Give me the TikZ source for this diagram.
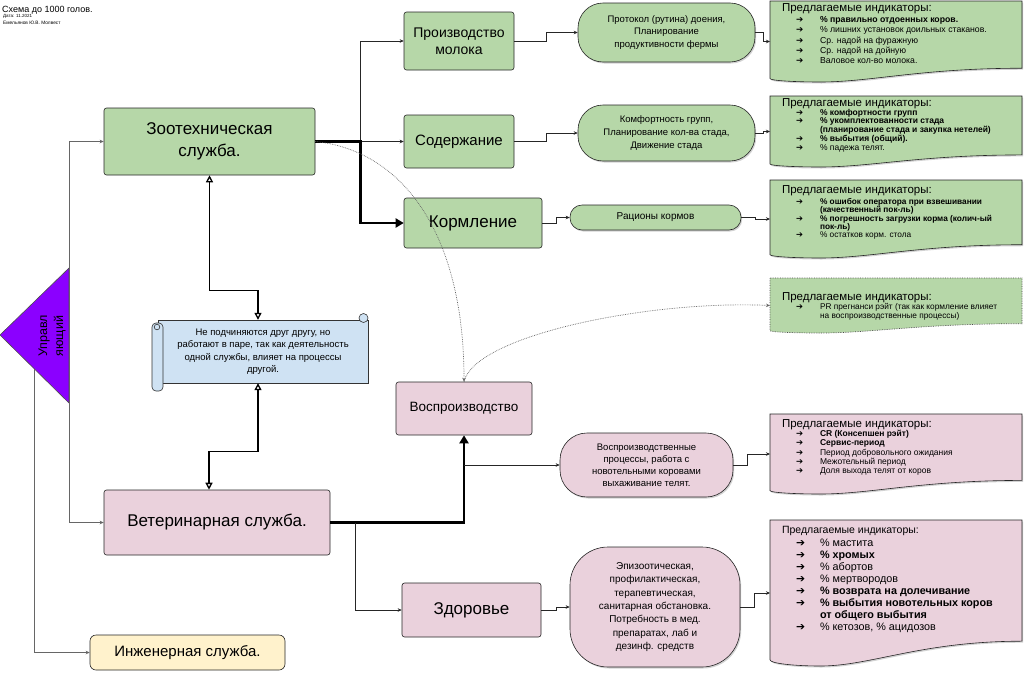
\documentclass[tikz,border=0pt]{standalone}
\usepackage{fontspec}
\setmainfont{Liberation Sans}
\newfontfamily\dejavu{DejaVu Sans}
\usetikzlibrary{arrows.meta,calc,shadows}
\definecolor{gr}{HTML}{B6D7A8}
\definecolor{pk}{HTML}{EAD1DC}
\definecolor{bl}{HTML}{CFE2F3}
\definecolor{yl}{HTML}{FFF2CC}
\definecolor{pu}{HTML}{8B00FF}
\newcommand\arw{{\dejavu ➔}}
\newcommand\ind[1]{\par\hangindent=38pt\hangafter=1\noindent\hspace*{14pt}\makebox[24pt][l]{\arw}#1}
\newcommand\hd[2]{\raggedright\leftskip=12pt\relax\vspace*{#1}{\fontsize{#2}{#2}\selectfont Предлагаемые индикаторы:\par}}
\newcommand\indbox[7]{%
 \pgfmathsetmacro\dw{#4-#2}\pgfmathsetmacro\dh{#5-#3}\pgfmathsetmacro\dd{0.17*\dh}%
 \path[#6] (#2,#3) -- (#4,#3) -- (#4,#5-\dd) .. controls (#2+0.6*\dw,#5-\dd) and (#2+0.4*\dw,#5) .. (#2+0.2*\dw,#5) .. controls (#2+0.1*\dw,#5) and (#2,#5-0.1*\dd) .. (#2,#5-0.25*\dd) -- cycle;
 \node[anchor=north west,inner sep=0pt,outer sep=0pt] (#1) at (#2,#3) {\begin{minipage}[t][\dh pt][t]{\dw pt}#7\end{minipage}};%
}
\begin{document}
\begin{tikzpicture}[x=1pt,y=-1pt,
 mainbox/.style={draw=black!85, line width=0.6pt, rounded corners=2.5pt, align=center, inner sep=2pt},
 oval/.style={draw=black!85, line width=0.6pt, align=center, inner sep=2pt, drop shadow={shadow xshift=1.2pt,shadow yshift=-1.5pt,opacity=0.35}},
 docg/.style={fill=gr, draw=black!85, line width=0.6pt, drop shadow={shadow xshift=1.2pt,shadow yshift=-1.5pt,opacity=0.35}},
 docp/.style={fill=pk, draw=black!85, line width=0.6pt, drop shadow={shadow xshift=1.2pt,shadow yshift=-1.5pt,opacity=0.35}},
 docd/.style={fill=gr, draw=black!70, line width=0.7pt, densely dotted},
 conn/.style={draw=black!85, line width=0.6pt, -{Stealth[length=4pt,width=3.5pt]}},
 mconn/.style={draw=black!60, line width=0.7pt, -{Stealth[length=4pt,width=3.5pt]}},
 thickconn/.style={draw=black, line width=2.4pt, -{Triangle[length=8pt,width=9pt]}},
 twoway/.style={draw=black, line width=1.3pt, {Triangle[open,length=7pt,width=7pt]}-{Triangle[open,length=7pt,width=7pt]}},
 dotconn/.style={draw=black!60, line width=0.7pt, densely dotted, -{Stealth[length=4pt,width=3.5pt]}}
]
\useasboundingbox (0,0) rectangle (1024,672);
\fill[white] (0,0) rectangle (1024,672);

% header
\node[anchor=west,inner sep=0pt,font=\fontsize{9}{9}\selectfont] (title) at (2,10) {Схема до 1000 голов.};
\node[anchor=west,inner sep=0pt,font=\fontsize{4.5}{5}\selectfont] (date) at (3,16.5) {Дата: 11.2021};
\node[anchor=west,inner sep=0pt,font=\fontsize{4.8}{5}\selectfont] (auth) at (3,22.5) {Емельянов Ю.В. Молвест};

% manager triangle
\filldraw[fill=pu, draw=black!70, line width=0.6pt] (0,335) -- (69,268) -- (69,403) -- cycle;
\node[rotate=90, align=center, inner sep=0pt, font=\fontsize{12.5}{16}\selectfont] (mgr) at (52,336) {Управл\\яющий};
\coordinate (m1) at (69,335);
\coordinate (m2) at (34,368.5);

% main boxes
\node[mainbox, fill=gr, minimum width=211, minimum height=67, font=\fontsize{17}{22}\selectfont] (zoo) at (209.5,141.5) {Зоотехническая\\служба.};
\node[mainbox, fill=pk, minimum width=226, minimum height=65, font=\fontsize{17}{22}\selectfont] (vet) at (217,522.5) {Ветеринарная служба.};
\node[mainbox, fill=yl, rounded corners=6pt, minimum width=195, minimum height=35, font=\fontsize{15}{18}\selectfont] (eng) at (187.5,652.5) {Инженерная служба.};

\node[mainbox, fill=gr, minimum width=110, minimum height=58, font=\fontsize{14}{17}\selectfont] (prod) at (459,41) {Производство\\молока};
\node[mainbox, fill=gr, minimum width=110, minimum height=53, font=\fontsize{15}{18}\selectfont] (sod) at (459,141.5) {Содержание};
\node[mainbox, fill=gr, minimum width=138, minimum height=50, font=\fontsize{17}{20}\selectfont] (korm) at (473,223) {Кормление};
\node[mainbox, fill=pk, minimum width=136, minimum height=53, font=\fontsize{13.5}{16}\selectfont] (vosp) at (464,408.5) {Воспроизводство};
\node[mainbox, fill=pk, minimum width=139, minimum height=54, font=\fontsize{17}{20}\selectfont] (zdor) at (471.5,610) {Здоровье};

% ovals
\node[oval, fill=gr, rounded corners=25pt, minimum width=177, minimum height=59, font=\fontsize{9.5}{12.7}\selectfont] (o1) at (666.5,32.5) {Протокол (рутина) доения,\\Планирование\\продуктивности фермы};
\node[oval, fill=gr, rounded corners=25pt, minimum width=177, minimum height=56, font=\fontsize{9.5}{12.7}\selectfont] (o2) at (666.5,133) {Комфортность групп,\\Планирование кол-ва стада,\\Движение стада};
\node[oval, fill=gr, rounded corners=12pt, minimum width=171, minimum height=25, font=\fontsize{10}{12}\selectfont] (o3) at (655.5,217.5) {Рационы кормов};
\node[oval, fill=pk, rounded corners=27pt, minimum width=173, minimum height=64, font=\fontsize{9.5}{12}\selectfont] (o4) at (646.5,465) {Воспроизводственные\\процессы, работа с\\новотельными коровами\\выхаживание телят.};
\node[oval, fill=pk, rounded corners=38pt, minimum width=170, minimum height=120, font=\fontsize{10}{13.3}\selectfont] (o5) at (655,607) {Эпизоотическая,\\профилактическая,\\терапевтическая,\\санитарная обстановка.\\Потребность в мед.\\препаратах, лаб и\\дезинф. средств};

% indicator boxes
\indbox{b1}{770}{1}{1022}{82}{docg}{\hd{2.4pt}{11.5}\vspace{1pt}\fontsize{8.7}{10.3}\selectfont
\ind{\textbf{\% правильно отдоенных коров.}}
\ind{\% лишних установок доильных стаканов.}
\ind{Ср. надой на фуражную}
\ind{Ср. надой на дойную}
\ind{Валовое кол-во молока.}\par}
\indbox{b2}{770}{96}{1022}{167}{docg}{\hd{2.4pt}{11.5}\fontsize{8.5}{8.8}\selectfont
\ind{\textbf{\% комфортности групп}}
\ind{\textbf{\% укомплектованности стада\newline (планирование стада и закупка нетелей)}}
\ind{\textbf{\% выбытия (общий).}}
\ind{\% падежа телят.}\par}
\indbox{b3}{770}{180}{1022}{258}{docg}{\hd{5.4pt}{11.5}\vspace{1.5pt}\fontsize{8.3}{8.4}\selectfont
\ind{\textbf{\% ошибок оператора при взвешивании\newline (качественный пок-ль)}}
\ind{\textbf{\% погрешность загрузки корма (колич-ый\newline пок-ль)}}
\ind{\% остатков корм. стола}\par}
\indbox{b4}{770}{278}{1022}{333}{docd}{\hd{14.4pt}{11.5}\fontsize{8.3}{9}\selectfont
\ind{PR прегнанси рэйт (так как кормление влияет\newline на воспроизводственные процессы)}\par}
\indbox{b5}{770}{414}{1022}{494}{docp}{\hd{5.4pt}{11.5}\fontsize{8.5}{9.3}\selectfont
\ind{\textbf{CR (Консепшен рэйт)}}
\ind{\textbf{Сервис-период}}
\ind{Период добровольного ожидания}
\ind{Межотельный период}
\ind{Доля выхода телят от коров}\par}
\indbox{b6}{770}{520}{1022}{666}{docp}{\hd{6pt}{10.5}\vspace{1pt}\fontsize{10.8}{12}\selectfont
\ind{\% мастита}
\ind{\textbf{\% хромых}}
\ind{\% абортов}
\ind{\% мертвородов}
\ind{\textbf{\% возврата на долечивание}}
\ind{\textbf{\% выбытия новотельных коров\newline от общего выбытия}}
\ind{\% кетозов, \% ацидозов}\par}

% scroll
\filldraw[fill=bl, draw=black!80, line width=0.6pt] (158,320) rectangle (368,383);
\filldraw[fill=bl, draw=black!80, line width=0.6pt] (363.5,318) circle (4.5);
\filldraw[fill=bl, draw=black!80, line width=0.6pt, rounded corners=4pt] (152,323) rectangle (163,391);
\draw[black!80, line width=0.6pt] (157,327) circle (2.8);
\node[align=center, minimum width=210, minimum height=63, inner sep=0pt, font=\fontsize{9.5}{12.5}\selectfont] (scroll) at (263,351.5) {Не подчиняются друг другу, но\\работают в паре, так как деятельность\\одной службы, влияет на процессы\\другой.};

% manager connectors
\draw[mconn] (m1) |- (zoo.west);
\draw[mconn] (m1) |- (vet.west);
\draw[mconn] (m2) |- (eng.west);

% zoo connectors
\coordinate (zj) at ($(zoo.east)+(45,0)$);
\draw[conn] (zj) |- (prod.west);
\draw[conn] (zj) -- (sod.west);
\draw[thickconn] (zoo.east) -- (zj) |- (korm.west);
\draw[dotconn] (zoo.east) .. controls (400,150) and (464,230) .. (vosp.north);
\draw[dotconn] (vosp.north) .. controls (475,335) and (650,300) .. (b4.west);

% scroll two-way arrows
\draw[twoway] (zoo.south) -- ++(0,115) -| ($(scroll.north)+(-5,0)$);
\draw[twoway] ($(scroll.south)+(-5,0)$) |- ($(vet.north)+(-8,-38)$) -- ($(vet.north)+(-8,0)$);

% vet connectors
\draw[thickconn] (vet.east) -| (vosp.south);
\draw[conn] (vosp.south |- o4.west) -- (o4.west);
\draw[conn] ($(vet.east)+(25,0)$) |- (zdor.west);

% box -> oval
\draw[conn] (prod.east) -- ++(32,0) |- (o1.west);
\draw[conn] (sod.east) -- ++(32,0) |- (o2.west);
\draw[conn] (korm.east) -- ++(14,0) |- (o3.west);
\draw[conn] (zdor.east) -- ++(15,0) |- (o5.west);

% oval -> indicators
\draw[conn] (o1.east) -- ++(8,0) |- (b1.west);
\draw[conn] (o2.east) -- ++(8,0) |- (b2.west);
\draw[conn] (o3.east) -- ++(14,0) |- (b3.west);
\draw[conn] (o4.east) -- ++(14,0) |- (b5.west);
\draw[conn] (o5.east) -- ++(14,0) |- (b6.west);
\end{tikzpicture}
\end{document}
